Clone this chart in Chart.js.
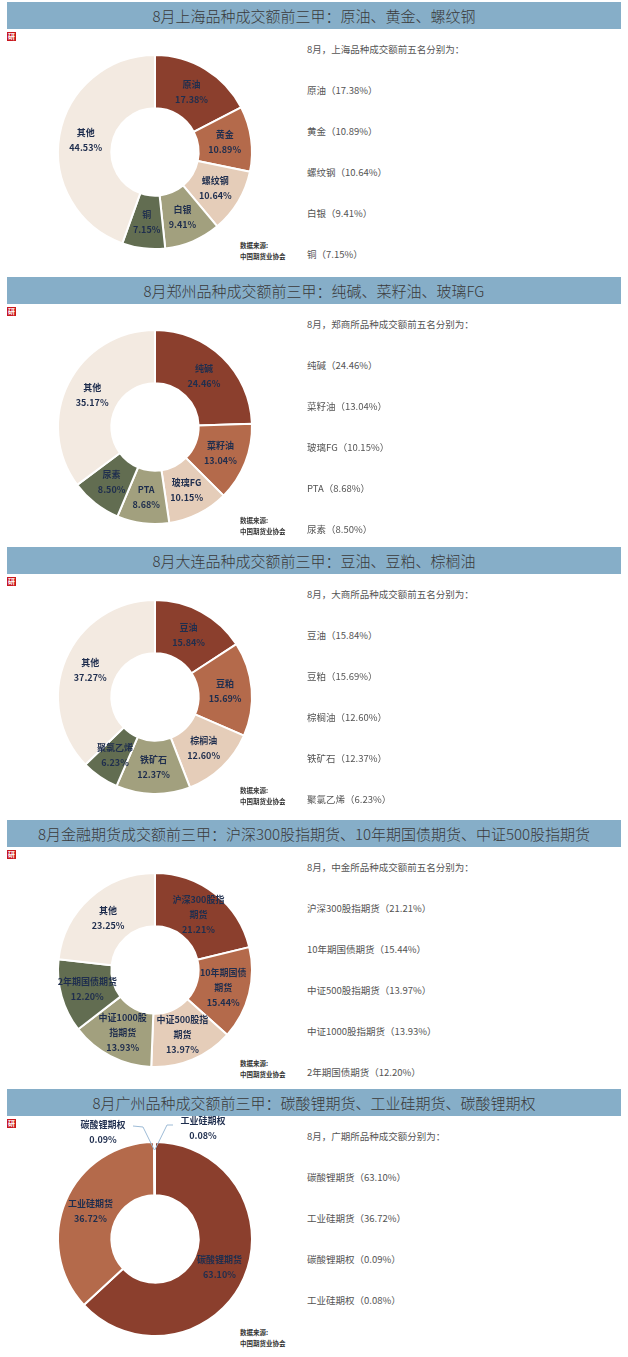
<!DOCTYPE html>
<html><head><meta charset="utf-8">
<script src="https://cdn.jsdelivr.net/npm/chart.js@4/dist/chart.umd.min.js"></script>
<style>
body{margin:0;background:#fff;font-family:"Noto Sans CJK SC","Noto Sans",sans-serif;}
#wrap{position:relative;width:628px;height:1357px;}
.bar{position:absolute;left:7px;width:614px;height:27px;background:#86AEC8;color:#3a3a3a;font-size:15px;font-weight:300;text-align:center;line-height:27px;}
.icon{position:absolute;left:7px;width:9px;height:9px;background:#C8161D;color:#fff;font-size:7px;line-height:9px;text-align:center;font-weight:bold;}
.txt{position:absolute;left:307px;font-size:9.5px;color:#555;white-space:nowrap;}
.src{position:absolute;left:240px;font-size:6.5px;font-weight:bold;color:#333;line-height:11px;}
canvas{position:absolute;}
</style></head><body><div id="wrap"></div>
<script>
const sectionTops=[2,277,547,820,1089];
const titles=["8月上海品种成交额前三甲：原油、黄金、螺纹钢","8月郑州品种成交额前三甲：纯碱、菜籽油、玻璃FG","8月大连品种成交额前三甲：豆油、豆粕、棕榈油","8月金融期货成交额前三甲：沪深300股指期货、10年期国债期货、中证500股指期货","8月广州品种成交额前三甲：碳酸锂期货、工业硅期货、碳酸锂期权"];
const introTexts=["8月，上海品种成交额前五名分别为：","8月，郑商所品种成交额前五名分别为：","8月，大商所品种成交额前五名分别为：","8月，中金所品种成交额前五名分别为：","8月，广期所品种成交额分别为："];
const labels1=["原油","黄金","螺纹钢","白银","铜","其他"];
const values1=[17.38,10.89,10.64,9.41,7.15,44.53];
const labels2=["纯碱","菜籽油","玻璃FG","PTA","尿素","其他"];
const values2=[24.46,13.04,10.15,8.68,8.50,35.17];
const labels3=["豆油","豆粕","棕榈油","铁矿石","聚氯乙烯","其他"];
const values3=[15.84,15.69,12.60,12.37,6.23,37.27];
const labels4=["沪深300股指期货","10年期国债期货","中证500股指期货","中证1000股指期货","2年期国债期货","其他"];
const values4=[21.21,15.44,13.97,13.93,12.20,23.25];
const labels5=["碳酸锂期货","工业硅期货","碳酸锂期权","工业硅期权"];
const values5=[63.10,36.72,0.09,0.08];
const wrapLabels4=[["沪深300股指","期货"],["10年期国债","期货"],["中证500股指","期货"],["中证1000股","指期货"],["2年期国债期货"],["其他"]];
const allLabels=[labels1,labels2,labels3,labels4,labels5];
const allValues=[values1,values2,values3,values4,values5];
const colors6=["#8B3F2D","#B46A4B","#E5CDB9","#A2A07E","#626D51","#F3EAE1"];
const colors5=["#8B3F2D","#B46A4B","#B46A4B","#8B3F2D"];
const wrap=document.getElementById('wrap');
function add(tag,cls,css,html){const e=document.createElement(tag);if(cls)e.className=cls;Object.assign(e.style,css);if(html!=null)e.innerHTML=html;wrap.appendChild(e);return e;}
sectionTops.forEach((t,i)=>{
  add('div','bar',{top:t+'px'},titles[i]);
  add('div','icon',{top:(t+30)+'px'},'研');
  add('div','txt',{top:(t+40)+'px'},introTexts[i]);
  allLabels[i].forEach((l,j)=>{ if(l==='其他')return;
    add('div','txt',{top:(t+81+j*41)+'px'},l+'（'+allValues[i][j].toFixed(2)+'%）');});
  add('div','src',{top:(t+238)+'px'},'数据来源:<br>中国期货业协会');
  const c=add('canvas',null,{left:'25px',top:(t+20)+'px'});
  c.width=260;c.height=260;c.style.width='260px';c.style.height='260px';
  const labs=allLabels[i];
  const lines=i===3?wrapLabels4:labs.map(l=>[l]);
  new Chart(c,{type:'doughnut',
    data:{labels:labs,datasets:[{data:allValues[i],backgroundColor:i===4?colors5:colors6,borderColor:'#fff',borderWidth:2}]},
    options:{responsive:false,animation:false,cutout:'45%',layout:{padding:32},
      plugins:{legend:{display:false},tooltip:{enabled:false}}},
    plugins:[{id:'lbl',afterDatasetsDraw(ch){
      const ctx=ch.ctx;const meta=ch.getDatasetMeta(0);
      ctx.save();ctx.fillStyle='#1F2E4E';ctx.textAlign='center';ctx.textBaseline='middle';
      ctx.font='bold 9px "Noto Sans CJK SC"';
      meta.data.forEach((arc,j)=>{
        const v=allValues[i][j].toFixed(2)+'%';
        if(i===4&&j>=2){
          const mid=(arc.startAngle+arc.endAngle)/2;
          const r=arc.outerRadius-8;
          const x0=arc.x+Math.cos(mid)*r,y0=arc.y+Math.sin(mid)*r;
          const top=arc.y-arc.outerRadius;
          ctx.strokeStyle='#9DBBD6';ctx.lineWidth=1;ctx.beginPath();ctx.moveTo(x0,y0);
          if(j===2){ctx.lineTo(arc.x-12,top-15);ctx.lineTo(arc.x-22,top-16);}
          else{ctx.lineTo(arc.x+12,top-17);ctx.lineTo(arc.x+18,top-17);}
          ctx.stroke();
          const tx=j===2?arc.x-52:arc.x+48, ty=j===2?top-17:top-21;
          ctx.fillText(labs[j],tx,ty);ctx.fillText(v,tx,ty+15);
          return;}
        const p=arc.tooltipPosition();
        const ls=lines[j].concat([v]);
        ls.forEach((s,k)=>ctx.fillText(s,p.x,p.y+(k-(ls.length-1)/2)*15));
      });ctx.restore();}}]
  });
});
</script></body></html>
